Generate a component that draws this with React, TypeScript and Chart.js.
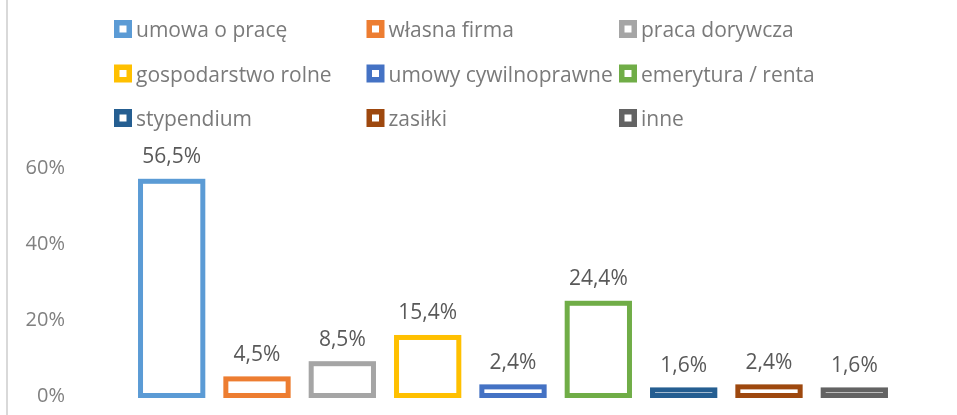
import React, { useEffect, useRef } from "react";
import { Chart, registerables } from "chart.js";

Chart.register(...registerables);

const categories = [
  "umowa o pracę",
  "własna firma",
  "praca dorywcza",
  "gospodarstwo rolne",
  "umowy cywilnoprawne",
  "emerytura / renta",
  "stypendium",
  "zasiłki",
  "inne",
];
const values = [56.5, 4.5, 8.5, 15.4, 2.4, 24.4, 1.6, 2.4, 1.6];
const colors = [
  "#5B9BD5",
  "#ED7D31",
  "#A5A5A5",
  "#FFC000",
  "#4472C4",
  "#70AD47",
  "#255E91",
  "#9E480E",
  "#636363",
];
const yTicks = [0, 20, 40, 60];

const FONT = "'Open Sans', 'Liberation Sans', sans-serif";

const customPlugin = {
  id: "custom",
  beforeDraw(chart: any) {
    const ctx = chart.ctx;
    ctx.save();
    ctx.fillStyle = "#ffffff";
    ctx.fillRect(0, 0, chart.width, chart.height);
    ctx.fillStyle = "#d9d9d9";
    ctx.fillRect(6, 0, 2, chart.height);
    ctx.restore();
  },
  afterDatasetsDraw(chart: any) {
    const ctx = chart.ctx;
    const meta = chart.getDatasetMeta(0);
    ctx.save();
    meta.data.forEach((bar: any, i: number) => {
      const { x, y, base, width } = bar.getProps(["x", "y", "base", "width"], true);
      ctx.lineWidth = 5;
      ctx.strokeStyle = colors[i];
      ctx.strokeRect(x - width / 2, y, width, base - y);
      ctx.fillStyle = "#595959";
      ctx.font = `21px ${FONT}`;
      ctx.textAlign = "center";
      ctx.textBaseline = "alphabetic";
      const txt = values[i].toFixed(1).replace(".", ",") + "%";
      ctx.fillText(txt, x, y - 18);
    });
    ctx.restore();
  },
  afterDraw(chart: any) {
    const ctx = chart.ctx;
    ctx.save();
    ctx.font = `21px ${FONT}`;
    ctx.textAlign = "left";
    ctx.textBaseline = "alphabetic";
    categories.forEach((cat, i) => {
      const col = i % 3;
      const row = Math.floor(i / 3);
      const bx = 114 + col * 252.5;
      const by = 20 + row * 44.5;
      ctx.fillStyle = colors[i];
      ctx.fillRect(bx, by, 18, 18);
      ctx.fillStyle = "#ffffff";
      ctx.fillRect(bx + 5.5, by + 5.5, 7, 7);
      ctx.fillStyle = "#7a7a7a";
      ctx.fillText(cat, bx + 22, by + 17);
    });
    ctx.restore();
  },
};

export default function App() {
  const ref = useRef<HTMLCanvasElement | null>(null);
  useEffect(() => {
    document.body.style.margin = "0";
    if (!ref.current) return;
    const chart = new Chart(ref.current, {
      type: "bar",
      data: {
        labels: categories,
        datasets: [
          {
            data: values,
            backgroundColor: "#ffffff",
            borderWidth: 0,
            barPercentage: 0.73,
            categoryPercentage: 1,
          },
        ],
      },
      options: {
        animation: false,
        responsive: false,
        devicePixelRatio: 1,
        layout: { padding: { top: 168, bottom: 19, left: 0, right: 60 } },
        plugins: {
          legend: { display: false },
          tooltip: { enabled: false },
        },
        scales: {
          x: { display: false },
          y: {
            min: 0,
            max: 60,
            afterFit: (s: any) => {
              s.width = 129;
            },
            afterBuildTicks: (s: any) => {
              s.ticks = yTicks.map((v) => ({ value: v }));
            },
            grid: {
              display: true,
              color: "rgba(0,0,0,0)",
              drawOnChartArea: false,
              drawTicks: true,
              tickLength: 57,
            },
            border: { display: false },
            ticks: {
              padding: 7,
              color: "#808080",
              font: { family: FONT, size: 20 },
              callback: (v: any) => `${v}%`,
            },
          },
        },
      },
      plugins: [customPlugin],
    });
    return () => chart.destroy();
  }, []);
  return (
    <div style={{ width: 957, height: 415 }}>
      <canvas ref={ref} width={957} height={415} />
    </div>
  );
}
